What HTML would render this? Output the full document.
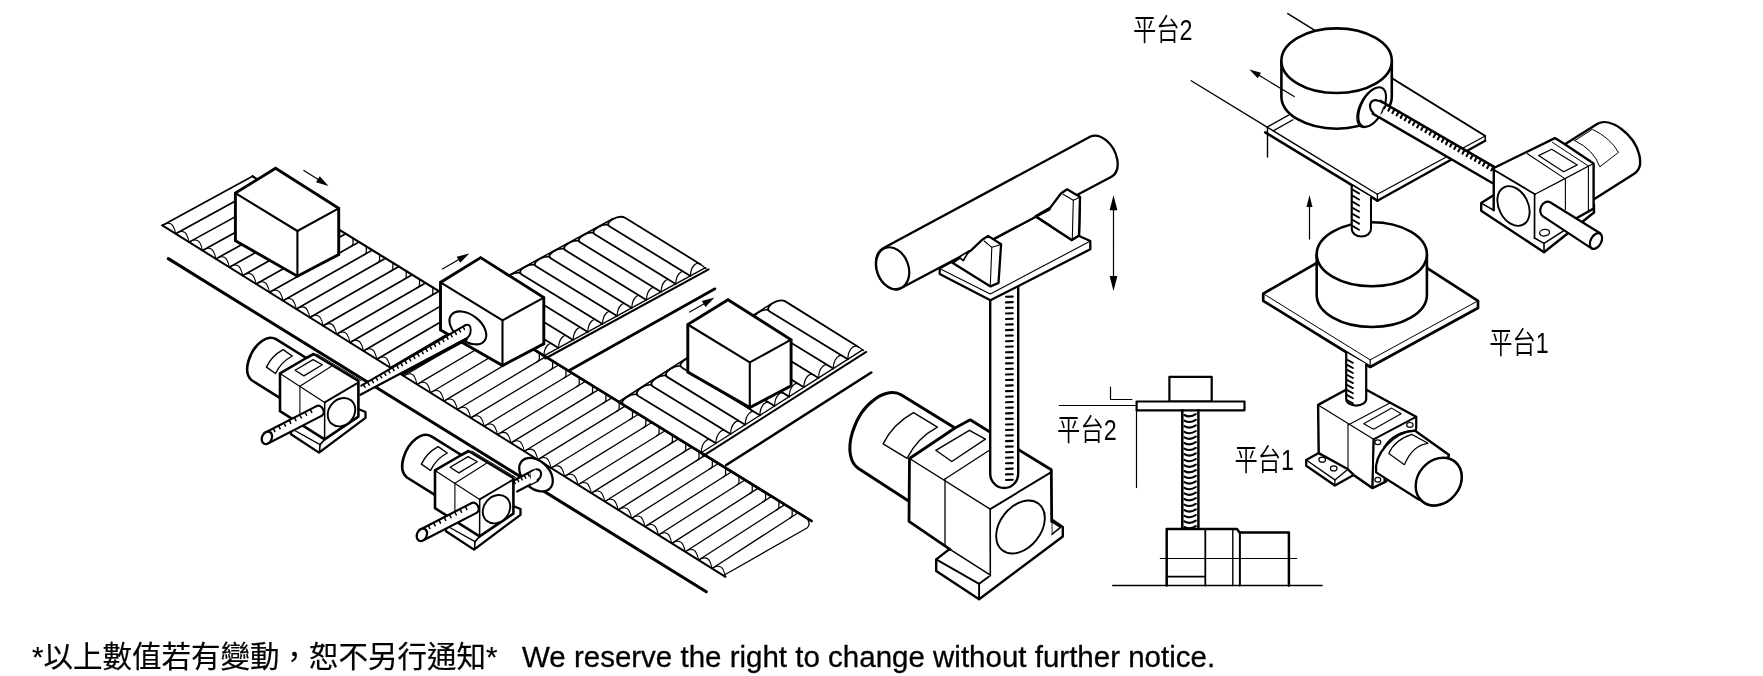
<!DOCTYPE html>
<html lang="zh-Hant"><head><meta charset="utf-8"><title>Application examples</title>
<style>
html,body{margin:0;padding:0;background:#fff;}
body{width:1763px;height:676px;overflow:hidden;font-family:"Liberation Sans","Noto Sans CJK TC",sans-serif;}
svg{display:block;}
svg text{fill:#000;stroke:none;}
</style></head><body>
<svg width="1763" height="676" viewBox="0 0 1763 676" fill="none">
<rect x="0" y="0" width="1763" height="676" fill="#fff" stroke="none"/>
<g stroke="#000" stroke-linecap="round" stroke-linejoin="round" fill="none">
<g id="conv">
<path d="M162.3,225.4 L252.5,176.25" stroke-width="1.7" />
<path d="M162.3,225.4 C166.3,222.6 171.1,222 173.3,226.6 C174.4,228.8 175.2,231.2 175.61,233.47" stroke-width="1.05" fill="none" />
<path d="M175.71,233.77 L265.81,184.46" stroke-width="1.7" />
<path d="M259.81,180.76 L259.81,186.14 Q259.81,188.04 257.21,189.16" stroke-width="1.25" fill="none" />
<path d="M175.71,233.77 C179.71,230.97 184.51,230.37 186.71,234.97 C187.81,237.17 188.61,239.57 189.02,241.83" stroke-width="1.05" fill="none" />
<path d="M189.12,242.13 L279.12,192.67" stroke-width="1.7" />
<path d="M273.12,188.97 L273.12,194.36 Q273.12,196.26 270.52,197.39" stroke-width="1.25" fill="none" />
<path d="M189.12,242.13 C193.12,239.33 197.92,238.73 200.12,243.33 C201.22,245.53 202.02,247.93 202.43,250.2" stroke-width="1.05" fill="none" />
<path d="M202.53,250.5 L292.43,200.88" stroke-width="1.7" />
<path d="M286.43,197.18 L286.43,202.59 Q286.43,204.49 283.83,205.62" stroke-width="1.25" fill="none" />
<path d="M202.53,250.5 C206.53,247.7 211.33,247.1 213.53,251.7 C214.63,253.9 215.43,256.3 215.84,258.57" stroke-width="1.05" fill="none" />
<path d="M215.94,258.87 L305.74,209.08" stroke-width="1.7" />
<path d="M299.74,205.38 L299.74,210.81 Q299.74,212.71 297.14,213.85" stroke-width="1.25" fill="none" />
<path d="M215.94,258.87 C219.94,256.07 224.74,255.47 226.94,260.07 C228.04,262.27 228.84,264.67 229.25,266.93" stroke-width="1.05" fill="none" />
<path d="M229.35,267.23 L319.05,217.29" stroke-width="1.7" />
<path d="M313.05,213.59 L313.05,219.03 Q313.05,220.93 310.45,222.08" stroke-width="1.25" fill="none" />
<path d="M229.35,267.23 C233.35,264.43 238.15,263.83 240.35,268.43 C241.45,270.63 242.25,273.03 242.66,275.3" stroke-width="1.05" fill="none" />
<path d="M242.76,275.6 L332.36,225.5" stroke-width="1.7" />
<path d="M326.36,221.8 L326.36,227.25 Q326.36,229.15 323.76,230.31" stroke-width="1.25" fill="none" />
<path d="M242.76,275.6 C246.76,272.8 251.56,272.2 253.76,276.8 C254.86,279 255.66,281.4 256.07,283.67" stroke-width="1.05" fill="none" />
<path d="M256.17,283.97 L345.67,233.71" stroke-width="1.7" />
<path d="M339.67,230.01 L339.67,235.48 Q339.67,237.38 337.07,238.54" stroke-width="1.25" fill="none" />
<path d="M256.17,283.97 C260.17,281.17 264.97,280.57 267.17,285.17 C268.27,287.37 269.07,289.77 269.48,292.03" stroke-width="1.05" fill="none" />
<path d="M269.58,292.33 L358.98,241.92" stroke-width="1.7" />
<path d="M352.98,238.22 L352.98,243.7 Q352.98,245.6 350.38,246.77" stroke-width="1.25" fill="none" />
<path d="M269.58,292.33 C273.58,289.53 278.38,288.93 280.58,293.53 C281.68,295.73 282.48,298.13 282.89,300.4" stroke-width="1.05" fill="none" />
<path d="M282.99,300.7 L372.29,250.12" stroke-width="1.7" />
<path d="M366.29,246.43 L366.29,251.92 Q366.29,253.82 363.69,255" stroke-width="1.25" fill="none" />
<path d="M282.99,300.7 C286.99,297.9 291.79,297.3 293.99,301.9 C295.09,304.1 295.89,306.5 296.3,308.77" stroke-width="1.05" fill="none" />
<path d="M296.4,309.07 L385.6,258.33" stroke-width="1.7" />
<path d="M379.6,254.63 L379.6,260.15 Q379.6,262.05 377,263.22" stroke-width="1.25" fill="none" />
<path d="M296.4,309.07 C300.4,306.27 305.2,305.67 307.4,310.27 C308.5,312.47 309.3,314.87 309.7,317.13" stroke-width="1.05" fill="none" />
<path d="M309.8,317.43 L398.9,266.54" stroke-width="1.7" />
<path d="M392.9,262.84 L392.9,268.37 Q392.9,270.27 390.3,271.45" stroke-width="1.25" fill="none" />
<path d="M309.8,317.43 C313.8,314.63 318.6,314.03 320.8,318.63 C321.9,320.83 322.7,323.23 323.11,325.5" stroke-width="1.05" fill="none" />
<path d="M323.21,325.8 L412.21,274.75" stroke-width="1.7" />
<path d="M406.21,271.05 L406.21,276.59 Q406.21,278.49 403.61,279.68" stroke-width="1.25" fill="none" />
<path d="M323.21,325.8 C327.21,323 332.01,322.4 334.21,327 C335.31,329.2 336.11,331.6 336.52,333.87" stroke-width="1.05" fill="none" />
<path d="M336.62,334.17 L425.52,282.96" stroke-width="1.7" />
<path d="M419.52,279.26 L419.52,284.81 Q419.52,286.71 416.92,287.91" stroke-width="1.25" fill="none" />
<path d="M336.62,334.17 C340.62,331.37 345.42,330.77 347.62,335.37 C348.72,337.57 349.52,339.97 349.93,342.23" stroke-width="1.05" fill="none" />
<path d="M350.03,342.53 L438.83,291.17" stroke-width="1.7" />
<path d="M432.83,287.47 L432.83,293.04 Q432.83,294.94 430.23,296.14" stroke-width="1.25" fill="none" />
<path d="M350.03,342.53 C354.03,339.73 358.83,339.13 361.03,343.73 C362.13,345.93 362.93,348.33 363.34,350.6" stroke-width="1.05" fill="none" />
<path d="M363.44,350.9 L452.14,299.38" stroke-width="1.7" />
<path d="M446.14,295.68 L446.14,301.26 Q446.14,303.16 443.54,304.37" stroke-width="1.25" fill="none" />
<path d="M363.44,350.9 C367.44,348.1 372.24,347.5 374.44,352.1 C375.54,354.3 376.34,356.7 376.75,358.97" stroke-width="1.05" fill="none" />
<path d="M376.85,359.27 L465.45,307.58" stroke-width="1.7" />
<path d="M459.45,303.88 L459.45,309.48 Q459.45,311.38 456.85,312.6" stroke-width="1.25" fill="none" />
<path d="M376.85,359.27 C380.85,356.47 385.65,355.87 387.85,360.47 C388.95,362.67 389.75,365.07 390.16,367.33" stroke-width="1.05" fill="none" />
<path d="M390.26,367.63 L478.76,315.79" stroke-width="1.7" />
<path d="M472.76,312.09 L472.76,317.71 Q472.76,319.61 470.16,320.83" stroke-width="1.25" fill="none" />
<path d="M390.26,367.63 C394.26,364.83 399.06,364.23 401.26,368.83 C402.36,371.03 403.16,373.43 403.57,375.7" stroke-width="1.05" fill="none" />
<path d="M403.67,376 L492.07,324" stroke-width="1.3" />
<path d="M486.07,320.3 L486.07,325.93 Q486.07,327.83 483.47,329.06" stroke-width="1.25" fill="none" />
<path d="M403.67,376 C407.67,373.2 412.47,372.6 414.67,377.2 C415.77,379.4 416.57,381.8 416.98,384.07" stroke-width="1.05" fill="none" />
<path d="M417.08,384.37 L505.38,332.21" stroke-width="1.3" />
<path d="M499.38,328.51 L499.38,334.15 Q499.38,336.05 496.78,337.29" stroke-width="1.25" fill="none" />
<path d="M417.08,384.37 C421.08,381.57 425.88,380.97 428.08,385.57 C429.18,387.77 429.98,390.17 430.39,392.43" stroke-width="1.05" fill="none" />
<path d="M430.49,392.73 L518.69,340.42" stroke-width="1.3" />
<path d="M512.69,336.72 L512.69,342.38 Q512.69,344.28 510.09,345.52" stroke-width="1.25" fill="none" />
<path d="M430.49,392.73 C434.49,389.93 439.29,389.33 441.49,393.93 C442.59,396.13 443.39,398.53 443.8,400.8" stroke-width="1.05" fill="none" />
<path d="M443.9,401.1 L532,348.62" stroke-width="1.3" />
<path d="M526,344.93 L526,350.6 Q526,352.5 523.4,353.75" stroke-width="1.25" fill="none" />
<path d="M443.9,401.1 C447.9,398.3 452.7,397.7 454.9,402.3 C456,404.5 456.8,406.9 457.21,409.17" stroke-width="1.05" fill="none" />
<path d="M457.31,409.47 L545.31,356.83" stroke-width="1.3" />
<path d="M539.31,353.13 L539.31,358.82 Q539.31,360.72 536.71,361.98" stroke-width="1.25" fill="none" />
<path d="M457.31,409.47 C461.31,406.67 466.11,406.07 468.31,410.67 C469.41,412.87 470.21,415.27 470.62,417.53" stroke-width="1.05" fill="none" />
<path d="M470.72,417.83 L558.62,365.04" stroke-width="1.3" />
<path d="M552.62,361.34 L552.62,367.05 Q552.62,368.95 550.02,370.21" stroke-width="1.25" fill="none" />
<path d="M470.72,417.83 C474.72,415.03 479.52,414.43 481.72,419.03 C482.82,421.23 483.62,423.63 484.03,425.9" stroke-width="1.05" fill="none" />
<path d="M484.13,426.2 L571.93,373.25" stroke-width="1.3" />
<path d="M565.93,369.55 L565.93,375.27 Q565.93,377.17 563.33,378.44" stroke-width="1.25" fill="none" />
<path d="M484.13,426.2 C488.13,423.4 492.93,422.8 495.13,427.4 C496.23,429.6 497.03,432 497.44,434.27" stroke-width="1.05" fill="none" />
<path d="M497.54,434.57 L585.24,381.46" stroke-width="1.3" />
<path d="M579.24,377.76 L579.24,383.49 Q579.24,385.39 576.64,386.67" stroke-width="1.25" fill="none" />
<path d="M497.54,434.57 C501.54,431.77 506.34,431.17 508.54,435.77 C509.64,437.97 510.44,440.37 510.85,442.63" stroke-width="1.05" fill="none" />
<path d="M510.95,442.93 L598.55,389.67" stroke-width="1.3" />
<path d="M592.55,385.97 L592.55,391.72 Q592.55,393.62 589.95,394.9" stroke-width="1.25" fill="none" />
<path d="M510.95,442.93 C514.95,440.13 519.75,439.53 521.95,444.13 C523.05,446.33 523.85,448.73 524.26,451" stroke-width="1.05" fill="none" />
<path d="M524.36,451.3 L611.86,397.88" stroke-width="1.3" />
<path d="M605.86,394.18 L605.86,399.94 Q605.86,401.84 603.26,403.13" stroke-width="1.25" fill="none" />
<path d="M524.36,451.3 C528.36,448.5 533.16,447.9 535.36,452.5 C536.46,454.7 537.26,457.1 537.67,459.37" stroke-width="1.05" fill="none" />
<path d="M537.77,459.67 L625.17,406.08" stroke-width="1.3" />
<path d="M619.17,402.38 L619.17,408.16 Q619.17,410.06 616.57,411.36" stroke-width="1.25" fill="none" />
<path d="M537.77,459.67 C541.77,456.87 546.57,456.27 548.77,460.87 C549.87,463.07 550.67,465.47 551.08,467.73" stroke-width="1.05" fill="none" />
<path d="M551.18,468.03 L638.48,414.29" stroke-width="1.3" />
<path d="M632.48,410.59 L632.48,416.39 Q632.48,418.29 629.88,419.59" stroke-width="1.25" fill="none" />
<path d="M551.18,468.03 C555.18,465.23 559.98,464.63 562.18,469.23 C563.28,471.43 564.08,473.83 564.49,476.1" stroke-width="1.05" fill="none" />
<path d="M564.59,476.4 L651.79,422.5" stroke-width="1.3" />
<path d="M645.79,418.8 L645.79,424.61 Q645.79,426.51 643.19,427.82" stroke-width="1.25" fill="none" />
<path d="M564.59,476.4 C568.59,473.6 573.39,473 575.59,477.6 C576.69,479.8 577.49,482.2 577.9,484.47" stroke-width="1.05" fill="none" />
<path d="M578,484.77 L665.1,430.71" stroke-width="1.3" />
<path d="M659.1,427.01 L659.1,432.83 Q659.1,434.73 656.5,436.05" stroke-width="1.25" fill="none" />
<path d="M578,484.77 C582,481.97 586.8,481.37 589,485.97 C590.1,488.17 590.9,490.57 591.3,492.83" stroke-width="1.05" fill="none" />
<path d="M591.4,493.13 L678.4,438.92" stroke-width="1.3" />
<path d="M672.4,435.22 L672.4,441.06 Q672.4,442.96 669.8,444.28" stroke-width="1.25" fill="none" />
<path d="M591.4,493.13 C595.4,490.33 600.2,489.73 602.4,494.33 C603.5,496.53 604.3,498.93 604.71,501.2" stroke-width="1.05" fill="none" />
<path d="M604.81,501.5 L691.71,447.13" stroke-width="1.3" />
<path d="M685.71,443.43 L685.71,449.28 Q685.71,451.18 683.11,452.51" stroke-width="1.25" fill="none" />
<path d="M604.81,501.5 C608.81,498.7 613.61,498.1 615.81,502.7 C616.91,504.9 617.71,507.3 618.12,509.57" stroke-width="1.05" fill="none" />
<path d="M618.22,509.87 L705.02,455.33" stroke-width="1.3" />
<path d="M699.02,451.63 L699.02,457.5 Q699.02,459.4 696.42,460.74" stroke-width="1.25" fill="none" />
<path d="M618.22,509.87 C622.22,507.07 627.02,506.47 629.22,511.07 C630.32,513.27 631.12,515.67 631.53,517.93" stroke-width="1.05" fill="none" />
<path d="M631.63,518.23 L718.33,463.54" stroke-width="1.3" />
<path d="M712.33,459.84 L712.33,465.73 Q712.33,467.63 709.73,468.97" stroke-width="1.25" fill="none" />
<path d="M631.63,518.23 C635.63,515.43 640.43,514.83 642.63,519.43 C643.73,521.63 644.53,524.03 644.94,526.3" stroke-width="1.05" fill="none" />
<path d="M645.04,526.6 L731.64,471.75" stroke-width="1.3" />
<path d="M725.64,468.05 L725.64,473.95 Q725.64,475.85 723.04,477.2" stroke-width="1.25" fill="none" />
<path d="M645.04,526.6 C649.04,523.8 653.84,523.2 656.04,527.8 C657.14,530 657.94,532.4 658.35,534.67" stroke-width="1.05" fill="none" />
<path d="M658.45,534.97 L744.95,479.96" stroke-width="1.3" />
<path d="M738.95,476.26 L738.95,482.17 Q738.95,484.07 736.35,485.43" stroke-width="1.25" fill="none" />
<path d="M658.45,534.97 C662.45,532.17 667.25,531.57 669.45,536.17 C670.55,538.37 671.35,540.77 671.76,543.03" stroke-width="1.05" fill="none" />
<path d="M671.86,543.33 L758.26,488.17" stroke-width="1.3" />
<path d="M752.26,484.47 L752.26,490.4 Q752.26,492.3 749.66,493.66" stroke-width="1.25" fill="none" />
<path d="M671.86,543.33 C675.86,540.53 680.66,539.93 682.86,544.53 C683.96,546.73 684.76,549.13 685.17,551.4" stroke-width="1.05" fill="none" />
<path d="M685.27,551.7 L771.57,496.38" stroke-width="1.3" />
<path d="M765.57,492.68 L765.57,498.62 Q765.57,500.52 762.97,501.89" stroke-width="1.25" fill="none" />
<path d="M685.27,551.7 C689.27,548.9 694.07,548.3 696.27,552.9 C697.37,555.1 698.17,557.5 698.58,559.77" stroke-width="1.05" fill="none" />
<path d="M698.68,560.07 L784.88,504.58" stroke-width="1.3" />
<path d="M778.88,500.88 L778.88,506.85 Q778.88,508.75 776.28,510.12" stroke-width="1.25" fill="none" />
<path d="M698.68,560.07 C702.68,557.27 707.48,556.67 709.68,561.27 C710.78,563.47 711.58,565.87 711.99,568.13" stroke-width="1.05" fill="none" />
<path d="M712.09,568.43 L798.19,512.79" stroke-width="1.3" />
<path d="M792.19,509.09 L792.19,515.07 Q792.19,516.97 789.59,518.35" stroke-width="1.25" fill="none" />
<path d="M712.09,568.43 C716.09,565.63 720.89,565.03 723.09,569.63 C724.19,571.83 724.99,574.23 725.4,576.5" stroke-width="1.05" fill="none" />
<path d="M723.5,575.5 L807,528 Q810.6,525.4 808,520" stroke-width="1.3" fill="none" />
<path d="M252.5,176.25 L811.5,521" stroke-width="2.2"/>
<path d="M162.3,225.4 L725.5,576.8" stroke-width="2.0"/>
<path d="M168.3,258.65 L706.3,591.8" stroke-width="3.1"/>
</g>
<g>
<path d="M458,303 L613.3,218.5 L706.81,266.94 L543.9,355.9 Z" stroke-width="0" fill="#fff" stroke="none"/>
<path d="M543.9,355.9 L463,306.39 C456.35,302.32 472.05,293.78 478.7,297.85 L554.16,344.41 L559.58,347.34 Z" stroke-width="0" fill="#fff" stroke="none"/>
<path d="M543.9,355.9 L463,306.39 C456.35,302.32 472.05,293.78 478.7,297.85 L554.16,344.41" stroke-width="1.8" fill="none" />
<path d="M543.9,355.9 C543.99,351.77 545.07,347.7 547.86,344.98 C550.2,342.74 552.72,343.4 554.16,344.41" stroke-width="1.2" fill="none" />
<path d="M558.55,347.9 L477.68,298.41 C471.02,294.34 486.72,285.79 493.38,289.86 L568.81,336.41 L574.23,339.34 Z" stroke-width="0" fill="#fff" stroke="none"/>
<path d="M558.55,347.9 L477.68,298.41 C471.02,294.34 486.72,285.79 493.38,289.86 L568.81,336.41" stroke-width="1.8" fill="none" />
<path d="M558.55,347.9 C558.64,343.77 559.72,339.7 562.51,336.98 C564.85,334.74 567.37,335.4 568.81,336.41" stroke-width="1.2" fill="none" />
<path d="M573.2,339.9 L492.35,290.42 C485.7,286.35 501.4,277.81 508.05,281.88 L583.46,328.41 L588.88,331.34 Z" stroke-width="0" fill="#fff" stroke="none"/>
<path d="M573.2,339.9 L492.35,290.42 C485.7,286.35 501.4,277.81 508.05,281.88 L583.46,328.41" stroke-width="1.8" fill="none" />
<path d="M573.2,339.9 C573.29,335.77 574.37,331.7 577.16,328.98 C579.5,326.74 582.02,327.4 583.46,328.41" stroke-width="1.2" fill="none" />
<path d="M587.85,331.9 L507.03,282.44 C500.37,278.37 516.07,269.82 522.73,273.9 L598.11,320.41 L603.53,323.34 Z" stroke-width="0" fill="#fff" stroke="none"/>
<path d="M587.85,331.9 L507.03,282.44 C500.37,278.37 516.07,269.82 522.73,273.9 L598.11,320.41" stroke-width="1.8" fill="none" />
<path d="M587.85,331.9 C587.94,327.77 589.02,323.7 591.81,320.98 C594.15,318.74 596.67,319.4 598.11,320.41" stroke-width="1.2" fill="none" />
<path d="M602.5,323.9 L521.7,274.45 C515.05,270.38 530.75,261.84 537.4,265.91 L612.76,312.41 L618.18,315.34 Z" stroke-width="0" fill="#fff" stroke="none"/>
<path d="M602.5,323.9 L521.7,274.45 C515.05,270.38 530.75,261.84 537.4,265.91 L612.76,312.41" stroke-width="1.8" fill="none" />
<path d="M602.5,323.9 C602.59,319.77 603.67,315.7 606.46,312.98 C608.8,310.74 611.32,311.4 612.76,312.41" stroke-width="1.2" fill="none" />
<path d="M617.15,315.9 L536.38,266.47 C529.72,262.4 545.42,253.85 552.08,257.93 L627.41,304.41 L632.83,307.34 Z" stroke-width="0" fill="#fff" stroke="none"/>
<path d="M617.15,315.9 L536.38,266.47 C529.72,262.4 545.42,253.85 552.08,257.93 L627.41,304.41" stroke-width="1.8" fill="none" />
<path d="M617.15,315.9 C617.24,311.77 618.32,307.7 621.11,304.98 C623.45,302.74 625.97,303.4 627.41,304.41" stroke-width="1.2" fill="none" />
<path d="M631.8,307.9 L551.05,258.48 C544.4,254.41 560.1,245.87 566.75,249.94 L642.06,296.41 L647.48,299.34 Z" stroke-width="0" fill="#fff" stroke="none"/>
<path d="M631.8,307.9 L551.05,258.48 C544.4,254.41 560.1,245.87 566.75,249.94 L642.06,296.41" stroke-width="1.8" fill="none" />
<path d="M631.8,307.9 C631.89,303.77 632.97,299.7 635.76,296.98 C638.1,294.74 640.62,295.4 642.06,296.41" stroke-width="1.2" fill="none" />
<path d="M646.45,299.9 L565.73,250.5 C559.07,246.43 574.77,237.88 581.43,241.96 L656.71,288.41 L662.13,291.34 Z" stroke-width="0" fill="#fff" stroke="none"/>
<path d="M646.45,299.9 L565.73,250.5 C559.07,246.43 574.77,237.88 581.43,241.96 L656.71,288.41" stroke-width="1.8" fill="none" />
<path d="M646.45,299.9 C646.54,295.77 647.62,291.7 650.41,288.98 C652.75,286.74 655.27,287.4 656.71,288.41" stroke-width="1.2" fill="none" />
<path d="M661.1,291.9 L580.4,242.52 C573.75,238.44 589.45,229.9 596.1,233.97 L671.36,280.41 L676.78,283.34 Z" stroke-width="0" fill="#fff" stroke="none"/>
<path d="M661.1,291.9 L580.4,242.52 C573.75,238.44 589.45,229.9 596.1,233.97 L671.36,280.41" stroke-width="1.8" fill="none" />
<path d="M661.1,291.9 C661.19,287.77 662.27,283.7 665.06,280.98 C667.4,278.74 669.92,279.4 671.36,280.41" stroke-width="1.2" fill="none" />
<path d="M675.75,283.9 L595.08,234.53 C588.42,230.46 604.12,221.92 610.78,225.99 L686.01,272.41 L691.43,275.34 Z" stroke-width="0" fill="#fff" stroke="none"/>
<path d="M675.75,283.9 L595.08,234.53 C588.42,230.46 604.12,221.92 610.78,225.99 L686.01,272.41" stroke-width="1.8" fill="none" />
<path d="M675.75,283.9 C675.84,279.77 676.92,275.7 679.71,272.98 C682.05,270.74 684.57,271.4 686.01,272.41" stroke-width="1.2" fill="none" />
<path d="M690.4,275.9 L609.75,226.55 C603.1,222.47 618.8,213.93 625.45,218 L700.66,264.41 L706.08,267.34 Z" stroke-width="0" fill="#fff" stroke="none"/>
<path d="M690.4,275.9 L609.75,226.55 C603.1,222.47 618.8,213.93 625.45,218 L700.66,264.41" stroke-width="1.8" fill="none" />
<path d="M690.4,275.9 C690.49,271.77 691.57,267.7 694.36,264.98 C696.7,262.74 699.22,263.4 700.66,264.41 C702.56,265.66 704.18,266.94 706.16,268.74" stroke-width="1.2" fill="none" />
<path d="M458,303 L613.3,218.5" stroke-width="1.5" />
<path d="M543.9,355.9 L705.49,267.66" stroke-width="1.3" />
<path d="M545.3,358.5 L708.64,269.3" stroke-width="2" />
<path d="M570,370 L715,288.75" stroke-width="2.6" />
</g>
<g>
<path d="M618.5,402 L772,303.3 L864.19,348.83 L701.2,452.7 Z" stroke-width="0" fill="#fff" stroke="none"/>
<path d="M701.2,452.7 L623.72,405.28 C617.06,401.21 632.68,391.17 639.34,395.24 L711.47,440.27 L716.89,442.7 Z" stroke-width="0" fill="#fff" stroke="none"/>
<path d="M701.2,452.7 L623.72,405.28 C617.06,401.21 632.68,391.17 639.34,395.24 L711.47,440.27" stroke-width="1.8" fill="none" />
<path d="M701.2,452.7 C701.29,448.56 702.37,444.39 705.17,441.41 C707.51,438.96 710.03,439.39 711.47,440.27" stroke-width="1.2" fill="none" />
<path d="M715.86,443.35 L638.31,395.9 C631.66,391.83 647.28,381.78 653.93,385.85 L726.14,430.93 L731.55,433.35 Z" stroke-width="0" fill="#fff" stroke="none"/>
<path d="M715.86,443.35 L638.31,395.9 C631.66,391.83 647.28,381.78 653.93,385.85 L726.14,430.93" stroke-width="1.8" fill="none" />
<path d="M715.86,443.35 C715.95,439.22 717.04,435.05 719.83,432.07 C722.17,429.61 724.7,430.05 726.14,430.93" stroke-width="1.2" fill="none" />
<path d="M730.53,434.01 L652.91,386.51 C646.26,382.44 661.88,372.4 668.53,376.47 L740.8,421.58 L746.22,424.01 Z" stroke-width="0" fill="#fff" stroke="none"/>
<path d="M730.53,434.01 L652.91,386.51 C646.26,382.44 661.88,372.4 668.53,376.47 L740.8,421.58" stroke-width="1.8" fill="none" />
<path d="M730.53,434.01 C730.62,429.87 731.7,425.7 734.49,422.72 C736.84,420.27 739.36,420.7 740.8,421.58" stroke-width="1.2" fill="none" />
<path d="M745.19,424.66 L667.51,377.12 C660.85,373.05 676.47,363.01 683.13,367.08 L755.47,412.24 L760.88,414.66 Z" stroke-width="0" fill="#fff" stroke="none"/>
<path d="M745.19,424.66 L667.51,377.12 C660.85,373.05 676.47,363.01 683.13,367.08 L755.47,412.24" stroke-width="1.8" fill="none" />
<path d="M745.19,424.66 C745.28,420.53 746.36,416.36 749.16,413.38 C751.5,410.92 754.02,411.35 755.47,412.24" stroke-width="1.2" fill="none" />
<path d="M759.85,415.32 L682.11,367.74 C675.45,363.67 691.07,353.62 697.72,357.7 L770.13,402.89 L775.54,405.32 Z" stroke-width="0" fill="#fff" stroke="none"/>
<path d="M759.85,415.32 L682.11,367.74 C675.45,363.67 691.07,353.62 697.72,357.7 L770.13,402.89" stroke-width="1.8" fill="none" />
<path d="M759.85,415.32 C759.94,411.18 761.03,407.01 763.82,404.03 C766.16,401.58 768.69,402.01 770.13,402.89" stroke-width="1.2" fill="none" />
<path d="M774.52,405.97 L696.7,358.35 C690.05,354.28 705.67,344.24 712.32,348.31 L784.79,393.54 L790.21,395.97 Z" stroke-width="0" fill="#fff" stroke="none"/>
<path d="M774.52,405.97 L696.7,358.35 C690.05,354.28 705.67,344.24 712.32,348.31 L784.79,393.54" stroke-width="1.8" fill="none" />
<path d="M774.52,405.97 C774.61,401.84 775.69,397.67 778.48,394.69 C780.83,392.23 783.35,392.66 784.79,393.54" stroke-width="1.2" fill="none" />
<path d="M789.18,396.63 L711.3,348.97 C704.65,344.9 720.27,334.85 726.92,338.92 L799.46,384.2 L804.87,386.63 Z" stroke-width="0" fill="#fff" stroke="none"/>
<path d="M789.18,396.63 L711.3,348.97 C704.65,344.9 720.27,334.85 726.92,338.92 L799.46,384.2" stroke-width="1.8" fill="none" />
<path d="M789.18,396.63 C789.27,392.49 790.35,388.32 793.15,385.34 C795.49,382.89 798.01,383.32 799.46,384.2" stroke-width="1.2" fill="none" />
<path d="M803.85,387.28 L725.9,339.58 C719.24,335.51 734.86,325.47 741.52,329.54 L814.12,374.85 L819.54,377.28 Z" stroke-width="0" fill="#fff" stroke="none"/>
<path d="M803.85,387.28 L725.9,339.58 C719.24,335.51 734.86,325.47 741.52,329.54 L814.12,374.85" stroke-width="1.8" fill="none" />
<path d="M803.85,387.28 C803.94,383.14 805.02,378.98 807.81,375.99 C810.15,373.54 812.68,373.97 814.12,374.85" stroke-width="1.2" fill="none" />
<path d="M818.51,377.94 L740.49,330.19 C733.84,326.12 749.46,316.08 756.11,320.15 L828.78,365.51 L834.2,367.94 Z" stroke-width="0" fill="#fff" stroke="none"/>
<path d="M818.51,377.94 L740.49,330.19 C733.84,326.12 749.46,316.08 756.11,320.15 L828.78,365.51" stroke-width="1.8" fill="none" />
<path d="M818.51,377.94 C818.6,373.8 819.68,369.63 822.47,366.65 C824.82,364.2 827.34,364.63 828.78,365.51" stroke-width="1.2" fill="none" />
<path d="M833.17,368.59 L755.09,320.81 C748.44,316.74 764.06,306.69 770.71,310.77 L843.45,356.16 L848.86,358.59 Z" stroke-width="0" fill="#fff" stroke="none"/>
<path d="M833.17,368.59 L755.09,320.81 C748.44,316.74 764.06,306.69 770.71,310.77 L843.45,356.16" stroke-width="1.8" fill="none" />
<path d="M833.17,368.59 C833.26,364.45 834.34,360.28 837.14,357.3 C839.48,354.85 842.01,355.28 843.45,356.16" stroke-width="1.2" fill="none" />
<path d="M847.84,359.25 L769.69,311.42 C763.04,307.35 778.66,297.31 785.31,301.38 L858.11,346.82 L863.53,349.25 Z" stroke-width="0" fill="#fff" stroke="none"/>
<path d="M847.84,359.25 L769.69,311.42 C763.04,307.35 778.66,297.31 785.31,301.38 L858.11,346.82" stroke-width="1.8" fill="none" />
<path d="M847.84,359.25 C847.93,355.11 849.01,350.94 851.8,347.96 C854.15,345.5 856.67,345.94 858.11,346.82 C860,347.89 861.63,349.02 863.61,350.63" stroke-width="1.2" fill="none" />
<path d="M618.5,402 L772,303.3" stroke-width="1.5" />
<path d="M701.2,452.7 L862.92,349.63" stroke-width="1.3" />
<path d="M702.8,456.1 L866.21,351.96" stroke-width="2" />
<path d="M726.25,465 L871.25,372.5" stroke-width="2.6" />
</g>
<path d="M535,350 L811.5,521" stroke-width="2.6" />
<path d="M275.6,168.3 L338.7,208.3 L338.7,254.5 L297.4,276.2 L235.4,240.7 L235.4,193.1 Z" stroke-width="2.9" fill="#fff" stroke-linejoin="miter"/>
<path d="M235.4,193.1 L297.4,231" stroke-width="2.1" />
<path d="M297.4,231 L338.7,208.3" stroke-width="2.1" />
<path d="M297.4,231 L297.4,276.2" stroke-width="2.1" />
<path d="M303.8,170.6 L317.87,179.32" stroke-width="1.2" />
<path d="M328.5,185.9 L316.03,182.29 L319.72,176.34 Z" fill="#000" stroke="none"/>
<path d="M728,299.7 L791.1,339.7 L791.1,385.9 L749.8,407.6 L687.8,372.1 L687.8,324.5 Z" stroke-width="2.9" fill="#fff" stroke-linejoin="miter"/>
<path d="M687.8,324.5 L749.8,362.4" stroke-width="2.1" />
<path d="M749.8,362.4 L791.1,339.7" stroke-width="2.1" />
<path d="M749.8,362.4 L749.8,407.6" stroke-width="2.1" />
<path d="M689.7,312.1 L703.71,303.91" stroke-width="1.2" />
<path d="M714.5,297.6 L705.48,306.93 L701.94,300.89 Z" fill="#000" stroke="none"/>
<path d="M480.7,257.6 L543.8,297.6 L543.8,343.8 L502.5,365.5 L440.5,330 L440.5,282.4 Z" stroke-width="2.9" fill="#fff" stroke-linejoin="miter"/>
<path d="M440.5,282.4 L502.5,320.3" stroke-width="2.1" />
<path d="M502.5,320.3 L543.8,297.6" stroke-width="2.1" />
<path d="M502.5,320.3 L502.5,365.5" stroke-width="2.1" />
<path d="M442.4,269 L458.47,259.74" stroke-width="1.2" />
<path d="M469.3,253.5 L460.22,262.77 L456.72,256.71 Z" fill="#000" stroke="none"/>
<ellipse cx="467.9" cy="327.9" rx="21" ry="13" transform="rotate(38 467.9 327.9)" stroke-width="2.1" fill="#fff"/>
<path d="M361.3,385.7 L465,325.4 L465.6,339 L360.4,394.8 Z" stroke-width="0" fill="#fff" stroke="none"/>
<path d="M361.3,385.7 L465,325.4" stroke-width="2.1" />
<path d="M360.4,394.8 L465.6,339" stroke-width="2.1" />
<path d="M363.37,384.49 L365.08,387.43" stroke-width="1.5" />
<path d="M367.52,382.08 L369.23,385.02" stroke-width="1.5" />
<path d="M371.67,379.67 L373.38,382.61" stroke-width="1.5" />
<path d="M375.82,377.26 L377.53,380.2" stroke-width="1.5" />
<path d="M379.97,374.85 L381.68,377.79" stroke-width="1.5" />
<path d="M384.11,372.43 L385.82,375.37" stroke-width="1.5" />
<path d="M388.26,370.02 L389.97,372.96" stroke-width="1.5" />
<path d="M392.41,367.61 L394.12,370.55" stroke-width="1.5" />
<path d="M396.56,365.2 L398.27,368.14" stroke-width="1.5" />
<path d="M400.71,362.79 L402.42,365.73" stroke-width="1.5" />
<path d="M404.85,360.37 L406.56,363.31" stroke-width="1.5" />
<path d="M409,357.96 L410.71,360.9" stroke-width="1.5" />
<path d="M413.15,355.55 L414.86,358.49" stroke-width="1.5" />
<path d="M417.3,353.14 L419.01,356.08" stroke-width="1.5" />
<path d="M421.45,350.73 L423.16,353.67" stroke-width="1.5" />
<path d="M425.59,348.31 L427.3,351.25" stroke-width="1.5" />
<path d="M429.74,345.9 L431.45,348.84" stroke-width="1.5" />
<path d="M433.89,343.49 L435.6,346.43" stroke-width="1.5" />
<path d="M438.04,341.08 L439.75,344.02" stroke-width="1.5" />
<path d="M442.19,338.67 L443.9,341.61" stroke-width="1.5" />
<path d="M446.33,336.25 L448.04,339.19" stroke-width="1.5" />
<path d="M450.48,333.84 L452.19,336.78" stroke-width="1.5" />
<path d="M454.63,331.43 L456.34,334.37" stroke-width="1.5" />
<path d="M458.78,329.02 L460.49,331.96" stroke-width="1.5" />
<path d="M462.93,326.61 L464.64,329.55" stroke-width="1.5" />
<path d="M465,325.4 C472.2,321.5 472.8,335.1 465.6,339" stroke-width="1.9" fill="#fff" />
<path d="M403,373.6 L466.2,339.4" stroke-width="3.3" />
<g>
<path d="M306.3,358 L276,339.2 C268,334.5 254,343 248.6,360.5 C245.8,370 247.5,377 252,380.5 L281,398.6 Z" stroke-width="2.6" fill="#fff" />
<path d="M266.4,367.1 Q271.5,356 283.1,349.6 L292.3,356 Q281,362 275.5,373.5 Z" stroke-width="1.4" fill="none" />
<path d="M358.2,409 L365.5,412 L365.5,417.8 L319,452.6 L291,434.2 L291,429 L300,423.5 Z" stroke-width="2.3" fill="#fff" />
<path d="M320,444.6 L324.6,439.6" stroke-width="1.6" />
<path d="M320,444.6 L319.5,452" stroke-width="1.6" />
<path d="M292.5,429.3 L320,444.6" stroke-width="1.3" />
<path d="M280,373.4 L306.3,358 L313.6,354 L358.4,381 L358.4,416.6 L324.6,439.4 L280,411.2 Z" stroke-width="2.6" fill="#fff" />
<path d="M280,373.4 L324.7,402.4" stroke-width="1.2" />
<path d="M324.7,402.4 L358.2,382.6" stroke-width="1.9" />
<path d="M324.7,402.4 L324.6,439" stroke-width="1.5" />
<path d="M299.9,386.2 L299.9,423.5" stroke-width="1.1" />
<path d="M299.9,386.2 L331.5,366.2" stroke-width="1.1" />
<path d="M316.9,354 L361,380.6" stroke-width="1" />
<path d="M295.1,370.3 L313.1,359.6 L322.3,364.7 L303.9,375.9 Z" stroke-width="1.3" fill="none" />
<ellipse cx="341.5" cy="412.2" rx="15.2" ry="12.6" transform="rotate(-50 341.5 412.2)" stroke-width="1.9" fill="#fff"/>
<path d="M264.38,432.91 L316.48,406.11 L321.52,415.89 L269.42,442.69 Z" stroke-width="0" fill="#fff" stroke="none"/>
<path d="M264.38,432.91 L316.48,406.11" stroke-width="2.2" />
<path d="M269.42,442.69 L321.52,415.89" stroke-width="2.2" />
<path d="M273.27,428.34 L274.92,431.54" stroke-width="1.5" />
<path d="M278.55,425.62 L280.2,428.82" stroke-width="1.5" />
<path d="M283.82,422.91 L285.47,426.11" stroke-width="1.5" />
<path d="M289.1,420.2 L290.75,423.4" stroke-width="1.5" />
<path d="M294.37,417.48 L296.02,420.68" stroke-width="1.5" />
<path d="M299.65,414.77 L301.3,417.97" stroke-width="1.5" />
<path d="M304.92,412.06 L306.57,415.26" stroke-width="1.5" />
<path d="M310.2,409.34 L311.85,412.54" stroke-width="1.5" />
<path d="M316.48,406.11 C321.68,403.41 326.72,413.19 321.52,415.89" stroke-width="2.2" fill="#fff" />
<ellipse cx="266.9" cy="437.8" rx="4.9" ry="6.5" transform="rotate(25 266.9 437.8)" stroke-width="2.3" fill="#fff"/>
</g>
<ellipse cx="536" cy="474.6" rx="19.6" ry="13.4" transform="rotate(45 536 474.6)" stroke-width="2.3" fill="#fff"/>
<path d="M511.86,481.45 L532.86,470.45 L538.14,480.55 L517.14,491.55 Z" stroke-width="0" fill="#fff" stroke="none"/>
<path d="M511.86,481.45 L532.86,470.45" stroke-width="2.1" />
<path d="M517.14,491.55 L538.14,480.55" stroke-width="2.1" />
<path d="M513.61,480.53 L515.18,483.55" stroke-width="1.5" />
<path d="M517.11,478.7 L518.68,481.71" stroke-width="1.5" />
<path d="M520.61,476.87 L522.18,479.88" stroke-width="1.5" />
<path d="M524.11,475.03 L525.68,478.05" stroke-width="1.5" />
<path d="M527.61,473.2 L529.18,476.21" stroke-width="1.5" />
<path d="M531.11,471.37 L532.68,474.38" stroke-width="1.5" />
<ellipse cx="536" cy="475" rx="4.8" ry="6" transform="rotate(28 536 475)" stroke-width="2.1" fill="#fff"/>
<path d="M530.6,472.6 L536,469.6 L536.6,481 L531,484 Z" stroke-width="0" fill="#fff" stroke="none"/>
<g>
<path d="M461.3,455 L431,436.2 C423,431.5 409,440 403.6,457.5 C400.8,467 402.5,474 407,477.5 L436,495.6 Z" stroke-width="2.6" fill="#fff" />
<path d="M421.4,464.1 Q426.5,453 438.1,446.6 L447.3,453 Q436,459 430.5,470.5 Z" stroke-width="1.4" fill="none" />
<path d="M513.2,506 L520.5,509 L520.5,514.8 L474,549.6 L446,531.2 L446,526 L455,520.5 Z" stroke-width="2.3" fill="#fff" />
<path d="M475,541.6 L479.6,536.6" stroke-width="1.6" />
<path d="M475,541.6 L474.5,549" stroke-width="1.6" />
<path d="M447.5,526.3 L475,541.6" stroke-width="1.3" />
<path d="M435,470.4 L461.3,455 L468.6,451 L513.4,478 L513.4,513.6 L479.6,536.4 L435,508.2 Z" stroke-width="2.6" fill="#fff" />
<path d="M435,470.4 L479.7,499.4" stroke-width="1.2" />
<path d="M479.7,499.4 L513.2,479.6" stroke-width="1.9" />
<path d="M479.7,499.4 L479.6,536" stroke-width="1.5" />
<path d="M454.9,483.2 L454.9,520.5" stroke-width="1.1" />
<path d="M454.9,483.2 L486.5,463.2" stroke-width="1.1" />
<path d="M471.9,451 L516,477.6" stroke-width="1" />
<path d="M450.1,467.3 L468.1,456.6 L477.3,461.7 L458.9,472.9 Z" stroke-width="1.3" fill="none" />
<ellipse cx="496.5" cy="509.2" rx="15.2" ry="12.6" transform="rotate(-50 496.5 509.2)" stroke-width="1.9" fill="#fff"/>
<path d="M419.38,529.91 L471.48,503.11 L476.52,512.89 L424.42,539.69 Z" stroke-width="0" fill="#fff" stroke="none"/>
<path d="M419.38,529.91 L471.48,503.11" stroke-width="2.2" />
<path d="M424.42,539.69 L476.52,512.89" stroke-width="2.2" />
<path d="M428.27,525.34 L429.92,528.54" stroke-width="1.5" />
<path d="M433.55,522.62 L435.2,525.82" stroke-width="1.5" />
<path d="M438.82,519.91 L440.47,523.11" stroke-width="1.5" />
<path d="M444.1,517.2 L445.75,520.4" stroke-width="1.5" />
<path d="M449.37,514.48 L451.02,517.68" stroke-width="1.5" />
<path d="M454.65,511.77 L456.3,514.97" stroke-width="1.5" />
<path d="M459.92,509.06 L461.57,512.26" stroke-width="1.5" />
<path d="M465.2,506.34 L466.85,509.54" stroke-width="1.5" />
<path d="M471.48,503.11 C476.68,500.41 481.72,510.19 476.52,512.89" stroke-width="2.2" fill="#fff" />
<ellipse cx="421.9" cy="534.8" rx="4.9" ry="6.5" transform="rotate(25 421.9 534.8)" stroke-width="2.3" fill="#fff"/>
</g>
<g id="jack">
<path d="M955,428 L901.5,395 C888,386.5 862,401 852.5,432 C847,450 850.5,463 858.5,468.5 L909,501.2 Z" stroke-width="3" fill="#fff" />
<path d="M883.1,443.9 Q893,424 913.5,412.7 L937.4,427.1 Q917,438 907.1,458.3 Z" stroke-width="1.4" fill="none" />
<path d="M1051.7,519.5 L1062.8,527 L1062.8,536.5 L979.1,599.3 L936.2,571 L936.2,559.4 L948.8,549.6 Z" stroke-width="2.4" fill="#fff" />
<path d="M936.2,559.4 L979.1,583.8" stroke-width="1.9" />
<path d="M979.1,583.8 L979.1,598.5" stroke-width="1.9" />
<path d="M979.1,583.8 L990.4,575.5" stroke-width="1.9" />
<path d="M1051.7,521.5 L1060.5,527.4 L1051.7,534.5 Z" stroke-width="1.6" fill="#fff" />
<path d="M909.5,458.5 L955,428 L970.2,419.8 L1051.3,469.8 L1051.7,534 L990.4,577 L948.8,549.6 L909,521.3 Z" stroke-width="0" fill="#fff" stroke="none"/>
<path d="M950.0,549.4 L909.0,521.3 L909.5,458.5 L955.0,428.0 L970.2,419.8 L1051.3,469.8 L1051.7,521.5" stroke-width="2.8" fill="none" />
<path d="M950,549.4 L989.6,574.6" stroke-width="1.5" />
<path d="M909.5,458.5 L990.2,509.1" stroke-width="1.4" />
<path d="M990.2,509.1 L1050.5,472.6" stroke-width="1.9" />
<path d="M990.2,509.1 L990.3,576" stroke-width="1.6" />
<path d="M945,479 L945,545.5" stroke-width="1.3" />
<path d="M945,479 L996,446" stroke-width="1.3" />
<path d="M935.8,450.3 L969.4,430.3 L985.4,439.1 L951.8,461.5 Z" stroke-width="1.4" fill="none" />
<ellipse cx="1020.5" cy="527" rx="29.5" ry="20.5" transform="rotate(-52 1020.5 527)" stroke-width="1.9" fill="#fff"/>
<path d="M990.2,282 L1018.2,282 L1018.2,474 L990.2,474 Z" stroke-width="0" fill="#fff" stroke="none"/>
<path d="M990.2,296 L990.2,473.5 A14,14.5 0 0 0 1018.2,473.5 L1018.2,282" stroke-width="2.4" fill="#fff" />
<path d="M1006,296.8 L1012.8,296.6" stroke-width="2.1" />
<path d="M1006,302.35 L1012.8,302.15" stroke-width="2.1" />
<path d="M1006,307.9 L1012.8,307.7" stroke-width="2.1" />
<path d="M1006,313.45 L1012.8,313.25" stroke-width="2.1" />
<path d="M1006,319 L1012.8,318.8" stroke-width="2.1" />
<path d="M1006,324.55 L1012.8,324.35" stroke-width="2.1" />
<path d="M1006,330.1 L1012.8,329.9" stroke-width="2.1" />
<path d="M1006,335.65 L1012.8,335.45" stroke-width="2.1" />
<path d="M1006,341.2 L1012.8,341" stroke-width="2.1" />
<path d="M1006,346.75 L1012.8,346.55" stroke-width="2.1" />
<path d="M1006,352.3 L1012.8,352.1" stroke-width="2.1" />
<path d="M1006,357.85 L1012.8,357.65" stroke-width="2.1" />
<path d="M1006,363.4 L1012.8,363.2" stroke-width="2.1" />
<path d="M1006,368.95 L1012.8,368.75" stroke-width="2.1" />
<path d="M1006,374.5 L1012.8,374.3" stroke-width="2.1" />
<path d="M1006,380.05 L1012.8,379.85" stroke-width="2.1" />
<path d="M1006,385.6 L1012.8,385.4" stroke-width="2.1" />
<path d="M1006,391.15 L1012.8,390.95" stroke-width="2.1" />
<path d="M1006,396.7 L1012.8,396.5" stroke-width="2.1" />
<path d="M1006,402.25 L1012.8,402.05" stroke-width="2.1" />
<path d="M1006,407.8 L1012.8,407.6" stroke-width="2.1" />
<path d="M1006,413.35 L1012.8,413.15" stroke-width="2.1" />
<path d="M1006,418.9 L1012.8,418.7" stroke-width="2.1" />
<path d="M1006,424.45 L1012.8,424.25" stroke-width="2.1" />
<path d="M1006,430 L1012.8,429.8" stroke-width="2.1" />
<path d="M1006,435.55 L1012.8,435.35" stroke-width="2.1" />
<path d="M1006,441.1 L1012.8,440.9" stroke-width="2.1" />
<path d="M1006,446.65 L1012.8,446.45" stroke-width="2.1" />
<path d="M1006,452.2 L1012.8,452" stroke-width="2.1" />
<path d="M1006,457.75 L1012.8,457.55" stroke-width="2.1" />
<path d="M1006,463.3 L1012.8,463.1" stroke-width="2.1" />
<path d="M1006,468.85 L1012.8,468.65" stroke-width="2.1" />
<path d="M1006,474.4 L1012.8,474.2" stroke-width="2.1" />
<path d="M1006,479.95 L1012.8,479.75" stroke-width="2.1" />
<path d="M939.7,268.3 L1035.7,216.5 L1090.3,241 L1090.3,249.3 L990.4,300.3 L939.7,274 Z" stroke-width="2.3" fill="#fff" />
<path d="M941.5,269.6 L990.3,294.0 L1089.0,241.8" stroke-width="1.1" fill="none" />
<path d="M1060.9,193.5 L1067.1,189.3 L1080,197.1 L1079,235.6 L1071.8,240 L1035.5,216.2 L1050.5,207.4 Z" stroke-width="2.3" fill="#fff" />
<path d="M1063.0,194.3 L1073.3,200.2 L1079.4,197.6" stroke-width="1.1" fill="none" />
<path d="M1073.3,200.2 L1072.3,238.5" stroke-width="1.1" />
<path d="M884.5,247.6 L1090,136.8 C1099.5,132 1114,143 1117.3,159.5 C1118.6,168 1117,174 1111,177 L900.3,288.4 C892,292.5 879,283 876.3,268.5 C874.8,258.5 877.5,251 884.5,247.6 Z" stroke-width="2.3" fill="#fff" />
<ellipse cx="892.7" cy="268.2" rx="15.8" ry="21.5" transform="rotate(-20 892.7 268.2)" stroke-width="2.2" fill="#fff"/>
<path d="M1060.9,193.5 L1067.1,189.3 L1080,197.1 L1079,235.6 L1071.8,240 L1052,227 L1050.5,207.4 Z" stroke-width="0" fill="#fff" stroke="none"/>
<path d="M1035.5,216.2 L1050.5,207.4 L1060.9,193.5 L1067.1,189.3 L1080,197.1 L1079,235.6 L1071.8,240 L1035.5,216.2" stroke-width="2.3" fill="none" />
<path d="M1063.0,194.3 L1073.3,200.2 L1079.4,197.6" stroke-width="1.1" fill="none" />
<path d="M1073.3,200.2 L1072.3,238.5" stroke-width="1.1" />
<path d="M981.9,240 L988.1,235.9 L1001.1,244.2 L998.5,283 L990.5,286.4 L952.4,262.8 L971.1,250.4 Z" stroke-width="2.3" fill="#fff" />
<path d="M984.2,241.0 L991.8,247.3 L1000.4,244.8" stroke-width="1.1" fill="none" />
<path d="M991.8,247.3 L990.3,285.5" stroke-width="1.1" />
<path d="M969,250.9 L963.3,260.7 L959.2,257.1 Z" stroke-width="1.6" fill="#fff" />
<path d="M1113.5,240 L1113.5,210.3" stroke-width="1.2" />
<path d="M1113.5,195.3 L1117.4,210.3 L1109.6,210.3 Z" fill="#000" stroke="none"/>
<path d="M1113.5,240 L1113.5,276" stroke-width="1.2" />
<path d="M1113.5,291 L1109.6,276 L1117.4,276 Z" fill="#000" stroke="none"/>
</g>
<g id="schem">
<rect x="1169.4" y="376.8" width="42.3" height="24.7" stroke-width="2.2" fill="#fff"/>
<rect x="1136.6" y="401.5" width="107.9" height="8.8" stroke-width="2.2" fill="#fff"/>
<path d="M1059.2,405.5 L1135.5,405.5" stroke-width="1.2" />
<path d="M1136.5,410.3 L1136.5,487.6" stroke-width="1.2" />
<path d="M1110.5,387.2 L1110.5,399.5 L1131.9,399.5" stroke-width="1.2" fill="none" />
<path d="M1182.3,410.3 L1182.3,529" stroke-width="2.5" />
<path d="M1198.4,410.3 L1198.4,529" stroke-width="2.5" />
<path d="M1184.4,415 Q1190,418.2 1195.8,414.2" stroke-width="2.1" fill="none" />
<path d="M1184.4,420.6 Q1190,423.8 1195.8,419.8" stroke-width="2.1" fill="none" />
<path d="M1184.4,426.2 Q1190,429.4 1195.8,425.4" stroke-width="2.1" fill="none" />
<path d="M1184.4,431.8 Q1190,435 1195.8,431" stroke-width="2.1" fill="none" />
<path d="M1184.4,437.4 Q1190,440.6 1195.8,436.6" stroke-width="2.1" fill="none" />
<path d="M1184.4,443 Q1190,446.2 1195.8,442.2" stroke-width="2.1" fill="none" />
<path d="M1184.4,448.6 Q1190,451.8 1195.8,447.8" stroke-width="2.1" fill="none" />
<path d="M1184.4,454.2 Q1190,457.4 1195.8,453.4" stroke-width="2.1" fill="none" />
<path d="M1184.4,459.8 Q1190,463 1195.8,459" stroke-width="2.1" fill="none" />
<path d="M1184.4,465.4 Q1190,468.6 1195.8,464.6" stroke-width="2.1" fill="none" />
<path d="M1184.4,471 Q1190,474.2 1195.8,470.2" stroke-width="2.1" fill="none" />
<path d="M1184.4,476.6 Q1190,479.8 1195.8,475.8" stroke-width="2.1" fill="none" />
<path d="M1184.4,482.2 Q1190,485.4 1195.8,481.4" stroke-width="2.1" fill="none" />
<path d="M1184.4,487.8 Q1190,491 1195.8,487" stroke-width="2.1" fill="none" />
<path d="M1184.4,493.4 Q1190,496.6 1195.8,492.6" stroke-width="2.1" fill="none" />
<path d="M1184.4,499 Q1190,502.2 1195.8,498.2" stroke-width="2.1" fill="none" />
<path d="M1184.4,504.6 Q1190,507.8 1195.8,503.8" stroke-width="2.1" fill="none" />
<path d="M1184.4,510.2 Q1190,513.4 1195.8,509.4" stroke-width="2.1" fill="none" />
<path d="M1184.4,515.8 Q1190,519 1195.8,515" stroke-width="2.1" fill="none" />
<path d="M1184.4,521.4 Q1190,524.6 1195.8,520.6" stroke-width="2.1" fill="none" />
<path d="M1184.4,527 Q1190,530.2 1195.8,526.2" stroke-width="2.1" fill="none" />
<path d="M1166.7,585.5 L1166.7,529.1 L1237.0,529.1 L1239.5,532.4 L1288.9,532.4 L1288.9,585.5" stroke-width="2.5" fill="#fff" />
<path d="M1205.3,529.1 L1205.3,585.5" stroke-width="1.8" />
<path d="M1232.8,529.1 L1232.8,585.5" stroke-width="1.4" />
<path d="M1239.9,532.4 L1239.9,585.5" stroke-width="2" />
<path d="M1166.7,576.7 L1205.3,576.7" stroke-width="1.8" />
<path d="M1160.3,558.5 L1296.7,558.5" stroke-width="1.1" />
<path d="M1112.7,585.5 L1322.2,585.5" stroke-width="1.3" />
</g>
<g id="right">
<path d="M1287.8,13.6 L1485.2,136" stroke-width="1.5" />
<path d="M1266,128 L1372,66 L1485.2,136 L1485.2,140.8 L1377.4,200.7 L1265,132.6 Z" stroke-width="0" fill="#fff" stroke="none"/>
<path d="M1372,66 L1485.2,136" stroke-width="1.5" />
<path d="M1267.1,127.1 L1288.6,115.1" stroke-width="1.3" />
<path d="M1273.6,130.6 L1293,119.8" stroke-width="1.3" />
<path d="M1265.2,132.4 L1377.4,200.7" stroke-width="2.6" />
<path d="M1267.1,127.1 L1377.4,194.3" stroke-width="1.3" />
<path d="M1377.4,200.7 L1485.2,140.8" stroke-width="2.4" />
<path d="M1377.4,194.3 L1485.2,136" stroke-width="1.3" />
<path d="M1485.2,136 L1485.2,140.8" stroke-width="1.6" />
<path d="M1377.4,194.3 L1377.4,200" stroke-width="1.2" />
<path d="M1191.2,80.8 L1267.1,127.1" stroke-width="1.3" />
<path d="M1267.5,128 L1267.5,157" stroke-width="1.4" />
<path d="M1281.4,60.7 L1281.4,96.4 A55.2,32.3 0 0 0 1391.8,96.4 L1391.8,60.7 Z" stroke-width="2.6" fill="#fff" />
<ellipse cx="1336.6" cy="60.7" rx="55.2" ry="32.3" transform="rotate(0 1336.6 60.7)" stroke-width="2.6" fill="#fff"/>
<path d="M1294.2,96.6 L1259.33,75.46" stroke-width="1.2" />
<path d="M1249.5,69.5 L1260.99,72.73 L1257.67,78.2 Z" fill="#000" stroke="none"/>
<ellipse cx="1370.8" cy="107.6" rx="11" ry="21.5" transform="rotate(27 1370.8 107.6)" stroke-width="1.5" fill="#fff"/>
<ellipse cx="1372.2" cy="107" rx="11" ry="21.5" transform="rotate(27 1372.2 107)" stroke-width="2" fill="#fff"/>
<path d="M1380.21,100.9 L1499.71,170.2 L1492.29,183 L1372.79,113.7 Z" stroke-width="0" fill="#fff" stroke="none"/>
<path d="M1380.21,100.9 L1499.71,170.2" stroke-width="2.5" />
<path d="M1372.79,113.7 L1492.29,183" stroke-width="2.5" />
<path d="M1382.27,102.09 L1380.07,105.9" stroke-width="2.1" />
<path d="M1386.39,104.48 L1384.19,108.29" stroke-width="2.1" />
<path d="M1390.51,106.87 L1388.31,110.68" stroke-width="2.1" />
<path d="M1394.63,109.26 L1392.43,113.07" stroke-width="2.1" />
<path d="M1398.76,111.65 L1396.55,115.46" stroke-width="2.1" />
<path d="M1402.88,114.04 L1400.67,117.85" stroke-width="2.1" />
<path d="M1407,116.43 L1404.79,120.24" stroke-width="2.1" />
<path d="M1411.12,118.82 L1408.91,122.63" stroke-width="2.1" />
<path d="M1415.24,121.21 L1413.03,125.02" stroke-width="2.1" />
<path d="M1419.36,123.6 L1417.15,127.41" stroke-width="2.1" />
<path d="M1423.48,125.99 L1421.27,129.8" stroke-width="2.1" />
<path d="M1427.6,128.38 L1425.39,132.19" stroke-width="2.1" />
<path d="M1431.72,130.77 L1429.51,134.58" stroke-width="2.1" />
<path d="M1435.84,133.16 L1433.63,136.97" stroke-width="2.1" />
<path d="M1439.96,135.55 L1437.75,139.35" stroke-width="2.1" />
<path d="M1444.08,137.94 L1441.88,141.74" stroke-width="2.1" />
<path d="M1448.2,140.33 L1446,144.13" stroke-width="2.1" />
<path d="M1452.32,142.72 L1450.12,146.52" stroke-width="2.1" />
<path d="M1456.45,145.11 L1454.24,148.91" stroke-width="2.1" />
<path d="M1460.57,147.5 L1458.36,151.3" stroke-width="2.1" />
<path d="M1464.69,149.89 L1462.48,153.69" stroke-width="2.1" />
<path d="M1468.81,152.28 L1466.6,156.08" stroke-width="2.1" />
<path d="M1472.93,154.67 L1470.72,158.47" stroke-width="2.1" />
<path d="M1477.05,157.06 L1474.84,160.86" stroke-width="2.1" />
<path d="M1481.17,159.45 L1478.96,163.25" stroke-width="2.1" />
<path d="M1485.29,161.83 L1483.08,165.64" stroke-width="2.1" />
<path d="M1489.41,164.22 L1487.2,168.03" stroke-width="2.1" />
<path d="M1493.53,166.61 L1491.32,170.42" stroke-width="2.1" />
<path d="M1497.65,169 L1495.44,172.81" stroke-width="2.1" />
<ellipse cx="1376.3" cy="107.2" rx="6" ry="7.4" transform="rotate(-28 1376.3 107.2)" stroke-width="2.2" fill="#fff"/>
<path d="M1378.5,101.6 L1384,104.8 L1379.6,116.2 L1374,113 Z" stroke-width="0" fill="#fff" stroke="none"/>
<path d="M1564.9,144.3 L1597.5,123.8 C1610,116.5 1634,134 1639.2,154.5 C1641.5,164.5 1640,170 1633,174.5 L1593.6,199.5 Z" stroke-width="2.4" fill="#fff" />
<path d="M1574.8,140.6 L1592.3,129.3 Q1610,137.5 1618.5,152.4 L1599.8,166.8 Q1594,150 1574.8,140.6 Z" stroke-width="1" fill="none" />
<path d="M1493.1,195.4 L1481.2,203.1 L1481.2,210.8 L1544,252.2 L1594,212.5 L1594,205 Z" stroke-width="2.4" fill="#fff" />
<path d="M1493.8,168 L1554.9,138.1 L1564.9,144.3 L1593.6,163.5 L1593.6,209 L1563.5,230.9 L1544,243.3 L1534.5,238 L1493.7,210.2 Z" stroke-width="0" fill="#fff" stroke="none"/>
<path d="M1493.7,210.2 L1493.8,168.0 L1554.9,138.1 L1564.9,144.3 L1593.6,163.5 L1593.6,208.6 L1575.0,219.0" stroke-width="2.4" fill="none" />
<path d="M1481.2,203.1 L1493.7,210.2" stroke-width="1.6" />
<path d="M1534.5,238 L1544,243.3" stroke-width="1.5" />
<path d="M1544,243.3 L1544,251.8" stroke-width="1.6" />
<path d="M1544,243.3 L1563.5,230.9" stroke-width="1.5" />
<ellipse cx="1544.6" cy="232.7" rx="5" ry="3.3" transform="rotate(-8 1544.6 232.7)" stroke-width="1.3" fill="#fff"/>
<path d="M1495,170.5 L1535,194.3" stroke-width="1.9" />
<path d="M1535,194.3 L1564.9,178.6" stroke-width="1.2" />
<path d="M1564.9,178.6 L1593,163.8" stroke-width="1.2" />
<path d="M1534.6,194.3 L1534.5,238" stroke-width="1.7" />
<path d="M1565.4,178.6 L1565.4,209.5" stroke-width="1.1" />
<path d="M1527.4,153.7 L1564.9,178.6" stroke-width="1.1" />
<path d="M1552.4,142.4 L1588.4,166" stroke-width="1" />
<path d="M1588.4,166 L1588.4,210.5" stroke-width="1.1" />
<path d="M1538.6,155.6 L1551.7,149.3 L1577.3,164.9 L1563.6,171.8 Z" stroke-width="1.2" fill="none" />
<ellipse cx="1513.5" cy="206" rx="21" ry="14.6" transform="rotate(63 1513.5 206)" stroke-width="1.9" fill="#fff"/>
<path d="M1550.5,202.5 L1600.2,233.3 L1591.9,248.6 L1543.4,216.7 Z" stroke-width="0" fill="#fff" stroke="none"/>
<path d="M1600.2,233.3 L1550.5,202.5 C1543,197.9 1535.9,212.1 1543.4,216.7 L1591.9,248.6" stroke-width="2.2" fill="#fff" />
<ellipse cx="1596" cy="241" rx="5.3" ry="8.4" transform="rotate(28 1596 241)" stroke-width="2.2" fill="#fff"/>
<path d="M1351.8,186 L1371,197 L1371,230 L1351.8,230 Z" stroke-width="0" fill="#fff" stroke="none"/>
<path d="M1351.8,185.5 L1351.8,229.0 A9.6,8 0 0 0 1371.0,229.0 L1371.0,197.5" stroke-width="2" fill="#fff" />
<path d="M1263.2,293.6 L1371,232 L1478,300.8 L1478,308 L1370.2,367 L1263.2,300.8 Z" stroke-width="2.7" fill="#fff" />
<path d="M1263.2,293.6 L1370.2,359.9 L1478,300.8" stroke-width="1" fill="none" />
<path d="M1370.2,359.9 L1370.2,366.5" stroke-width="1.2" />
<path d="M1316.7,254.3 L1316.7,295.0 A55.1,32 0 0 0 1426.9,295.0 L1426.9,254.3 Z" stroke-width="2.6" fill="#fff" />
<ellipse cx="1371.8" cy="254.3" rx="55.1" ry="32" transform="rotate(0 1371.8 254.3)" stroke-width="2.6" fill="#fff"/>
<path d="M1351.8,200 L1371,200 L1371,229 L1351.8,229 Z" stroke-width="0" fill="#fff" stroke="none"/>
<path d="M1351.8,186.0 L1351.8,229.0 A9.6,7.6 0 0 0 1371.0,229.0 L1371.0,197.5" stroke-width="2" fill="#fff" />
<path d="M1352.8,189.8 L1359,193.4" stroke-width="1.9" />
<path d="M1352.8,195.85 L1359,199.45" stroke-width="1.9" />
<path d="M1352.8,201.9 L1359,205.5" stroke-width="1.9" />
<path d="M1352.8,207.95 L1359,211.55" stroke-width="1.9" />
<path d="M1352.8,214 L1359,217.6" stroke-width="1.9" />
<path d="M1352.8,220.05 L1359,223.65" stroke-width="1.9" />
<path d="M1352.8,226.1 L1359,229.7" stroke-width="1.9" />
<path d="M1309.5,239.1 L1309.5,207" stroke-width="1.2" />
<path d="M1309.5,195 L1312.5,207 L1306.5,207 Z" fill="#000" stroke="none"/>
<path d="M1376.1,472.4 C1374,455 1392,432 1414.8,430.6 L1449,455 L1428,503 L1417.5,498.6 Z" stroke-width="2.3" fill="#fff" />
<ellipse cx="1438.7" cy="481.6" rx="21" ry="25.6" transform="rotate(40 1438.7 481.6)" stroke-width="2.4" fill="#fff"/>
<path d="M1388.8,453.6 Q1394.5,440 1411.8,434.4 L1428,443.3 Q1412.6,445 1404.4,464.7 Z" stroke-width="1.2" fill="none" />
<path d="M1318.7,453.1 L1306.2,460 L1306.2,465.8 L1334.9,485.5 L1353.7,474.9 L1372.4,488 L1386.1,481.2 L1386.1,440 Z" stroke-width="2.3" fill="#fff" />
<path d="M1306.2,460 L1334.9,479.9" stroke-width="1.3" />
<path d="M1334.9,479.9 L1334.9,485" stroke-width="1.3" />
<path d="M1334.9,479.9 L1348,469.3" stroke-width="1.3" />
<ellipse cx="1322.2" cy="459.7" rx="3.3" ry="2.5" transform="rotate(0 1322.2 459.7)" stroke-width="1.2" fill="#fff"/>
<ellipse cx="1333.7" cy="468.4" rx="3.3" ry="2.5" transform="rotate(0 1333.7 468.4)" stroke-width="1.2" fill="#fff"/>
<path d="M1318.1,404.9 L1356.2,384.3 L1416.1,416.8 L1416.1,428 L1386,481.5 L1372.4,488 L1353.7,474.9 L1348,469.3 L1318.7,453.1 Z" stroke-width="2.4" fill="#fff" />
<path d="M1373.6,439.3 L1416.1,416.8 L1416.1,430 L1384.5,447 L1384.5,482 L1372.4,488 Z" stroke-width="2" fill="#fff" />
<path d="M1384.5,447.0 C1390,437 1402,430.5 1414.8,430.6" stroke-width="1.8" fill="none" />
<ellipse cx="1409.9" cy="424.9" rx="3.2" ry="2.4" transform="rotate(0 1409.9 424.9)" stroke-width="1.2" fill="#fff"/>
<ellipse cx="1377.8" cy="442.3" rx="3" ry="2.4" transform="rotate(0 1377.8 442.3)" stroke-width="1.2" fill="#fff"/>
<ellipse cx="1377.8" cy="479.7" rx="3" ry="2.4" transform="rotate(0 1377.8 479.7)" stroke-width="1.2" fill="#fff"/>
<path d="M1318.1,404.9 L1373.6,439.3" stroke-width="1.2" />
<path d="M1373.6,439.3 L1372.4,487.5" stroke-width="1.8" />
<path d="M1348,424.9 L1348,469.3" stroke-width="1.1" />
<path d="M1348,424.9 L1389.9,403.1" stroke-width="1.1" />
<path d="M1363.7,423.7 L1391.7,408.1 L1401.1,413.7 L1373.6,429.3 Z" stroke-width="1.1" fill="none" />
<path d="M1376.1,472.4 C1374,455 1392,432 1414.8,430.6 L1449,455 L1428,503 L1417.5,498.6 Z" stroke-width="2.3" fill="#fff" />
<ellipse cx="1438.7" cy="481.6" rx="21" ry="25.6" transform="rotate(40 1438.7 481.6)" stroke-width="2.4" fill="#fff"/>
<path d="M1388.8,453.6 Q1394.5,440 1411.8,434.4 L1428,443.3 Q1412.6,445 1404.4,464.7 Z" stroke-width="1.2" fill="none" />
<path d="M1346.2,355 L1366.2,364 L1366.2,404 L1346.2,404 Z" stroke-width="0" fill="#fff" stroke="none"/>
<path d="M1346.2,352.5 L1346.2,399.0 A10,6.6 0 0 0 1366.2,399.0 L1366.2,364.0" stroke-width="2.2" fill="#fff" />
<path d="M1347.2,359.8 L1352.9,362.9" stroke-width="1.8" />
<path d="M1347.2,364.85 L1352.9,367.95" stroke-width="1.8" />
<path d="M1347.2,369.9 L1352.9,373" stroke-width="1.8" />
<path d="M1347.2,374.95 L1352.9,378.05" stroke-width="1.8" />
<path d="M1347.2,380 L1352.9,383.1" stroke-width="1.8" />
<path d="M1347.2,385.05 L1352.9,388.15" stroke-width="1.8" />
<path d="M1347.2,390.1 L1352.9,393.2" stroke-width="1.8" />
<path d="M1347.2,395.15 L1352.9,398.25" stroke-width="1.8" />
<path d="M1347.2,400.2 L1352.9,403.3" stroke-width="1.8" />
</g>
</g>
<g opacity="0.999">
<text transform="translate(1132.9,40) scale(0.79,1)" font-size="29.5" font-weight="350" font-family='"Liberation Sans","Noto Sans CJK TC",sans-serif'>平台2</text>
<text transform="translate(1057.1,439.9) scale(0.79,1)" font-size="29.5" font-weight="350" font-family='"Liberation Sans","Noto Sans CJK TC",sans-serif'>平台2</text>
<text transform="translate(1234.5,470.1) scale(0.79,1)" font-size="29.5" font-weight="350" font-family='"Liberation Sans","Noto Sans CJK TC",sans-serif'>平台1</text>
<text transform="translate(1489.2,353) scale(0.79,1)" font-size="29.5" font-weight="350" font-family='"Liberation Sans","Noto Sans CJK TC",sans-serif'>平台1</text>
<text x="32" y="667.3" font-size="29.5" font-family='"Liberation Sans","Noto Sans CJK TC",sans-serif' style="stroke:#000;stroke-width:0.2px">*以上數值若有變動，恕不另行通知*</text>
<text x="522" y="667.3" font-size="29.5" font-family='"Liberation Sans","Noto Sans CJK TC",sans-serif' style="stroke:#000;stroke-width:0.3px">We reserve the right to change without further notice.</text>
</g>
</svg>
</body></html>
